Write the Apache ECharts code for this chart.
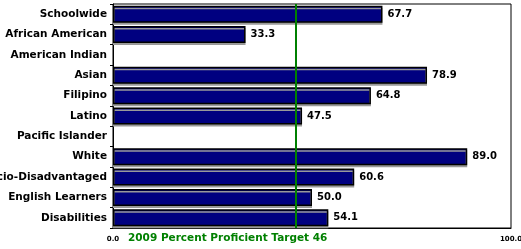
<!DOCTYPE html>
<html><head><meta charset="utf-8">
<script src="https://cdn.jsdelivr.net/npm/echarts@6/dist/echarts.min.js"></script>
<style>html,body{margin:0;padding:0;background:#fff}#c{width:521px;height:249px}</style>
</head><body><div id="c"></div>
<script>
const categories = ["Schoolwide","African American","American Indian","Asian","Filipino","Latino","Pacific Islander","White","Socio-Disadvantaged","English Learners","Disabilities"];
const values = [67.7, 33.3, null, 78.9, 64.8, 47.5, null, 89.0, 60.6, 50.0, 54.1];
const target = 46;
const axisTicks = [0, 100];
const titleText = "2009 Percent Proficient Target 46";

const chart = echarts.init(document.getElementById('c'), null, {renderer:'canvas'});
const font = 'DejaVu Sans';
chart.setOption({
  animation:false,
  grid:{left:113,right:10,top:4,bottom:21,outerBoundsMode:'none',containLabel:false,show:true,borderColor:'#000',borderWidth:1,backgroundColor:'#fff'},
  xAxis:{type:'value',min:axisTicks[0],max:axisTicks[1],interval:100,
    axisLine:{show:true,lineStyle:{color:'#000'}},axisTick:{show:false},splitLine:{show:false},
    axisLabel:{formatter:v=>v.toFixed(1),fontFamily:font,fontSize:7,fontWeight:'bold',color:'#000',margin:8}},
  yAxis:{type:'category',inverse:true,data:categories,
    axisLine:{show:true,lineStyle:{color:'#000',width:1}},
    axisTick:{show:true,length:3,lineStyle:{color:'#000'}},
    axisLabel:{fontFamily:font,fontSize:10.5,fontWeight:'bold',color:'#000',margin:6}},
  series:[{type:'bar',data:values,barWidth:17,
    itemStyle:{color:'#000080',borderColor:'#000',borderWidth:1.5,shadowColor:'#999',shadowOffsetY:2,shadowBlur:0},
    label:{show:true,position:'right',distance:5,formatter:p=>p.value==null?'':p.value.toFixed(1),
      fontFamily:font,fontSize:10,fontWeight:'bold',color:'#000'},
    markLine:{silent:true,symbol:'none',label:{show:false},lineStyle:{color:'#008000',width:2,type:'solid'},
      data:[{xAxis:target}]}
  }],
  graphic:[{type:'text',left:128,top:233,style:{text:titleText,fill:'#008000',font:'bold 10.5px "DejaVu Sans"'}}]
});
</script></body></html>
